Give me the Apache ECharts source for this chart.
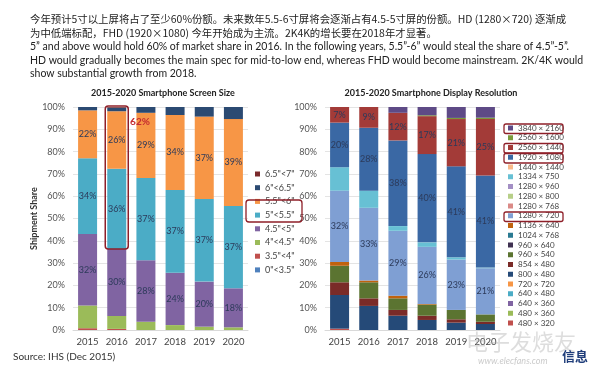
<!DOCTYPE html>
<html><head><meta charset="utf-8">
<script src="https://cdn.jsdelivr.net/npm/echarts@6/dist/echarts.min.js"></script>
<style>html,body{margin:0;padding:0;background:#fff}#c{width:600px;height:375px}</style>
</head><body><div id="c"></div><script>
// ---------- data ----------
const years = ['2015', '2016', '2017', '2018', '2019', '2020'];
const yTicks = [0, 10, 20, 30, 40, 50, 60, 70, 80, 90, 100];

// Screen size (stack bottom -> top)
const sizeNames = ['0"<3.5"', '3.5"<4"', '4"<4.5"', '4.5"<5"', '5"<5.5"', '5.5"<6"', '6"<6.5"', '6.5"<7"'];
const size_0_35 = [0, 0, 0, 0, 0, 0];
const size_35_4 = [0.8, 0.5, 0, 0, 0, 0];
const size_4_45 = [10.2, 5.8, 3.7, 2.2, 1.5, 1.2];
const size_45_5 = [32, 30, 27.6, 23.5, 20.2, 17.5];
const size_5_55 = [34, 36, 36.9, 37.1, 37, 36.9];
const size_55_6 = [21.5, 25.8, 29.2, 33.6, 37, 39];
const size_6_65 = [1.5, 1.6, 2.6, 3.6, 4.3, 5.4];
const size_65_7 = [0, 0.3, 0, 0, 0, 0];
const sizeLabelled = ['4.5"<5"', '5"<5.5"', '5.5"<6"'];

// Display resolution (stack bottom -> top)
const resNames = ['480 × 320', '480 × 360', '640 × 360', '640 × 480', '720 × 720', '800 × 480', '854 × 480',
  '960 × 540', '960 × 640', '1024 × 768', '1136 × 640', '1280 × 720', '1280 × 768', '1280 × 800',
  '1280 × 960', '1334 × 750', '1440 × 1440', '1920 × 1080', '2560 × 1440', '2560 × 1600', '3840 × 2160'];
const res_480x320 = [0.6, 0, 0, 0, 0, 0];
const res_480x360 = [0, 0, 0, 0, 0, 0];
const res_640x360 = [0, 0, 0, 0, 0, 0];
const res_640x480 = [0, 0, 0, 0, 0, 0];
const res_720x720 = [0, 0, 0, 0, 0, 0];
const res_800x480 = [15.1, 10.8, 6.4, 4.5, 3.3, 2.7];
const res_854x480 = [5.7, 3.4, 2.6, 1.9, 1.5, 1.0];
const res_960x540 = [7.4, 7.2, 5.2, 5.0, 4.2, 3.3];
const res_960x640 = [0, 0, 0, 0, 0, 0];
const res_1024x768 = [0, 0, 0, 0, 0, 0];
const res_1136x640 = [1.7, 0.8, 1.2, 0.3, 0, 0];
const res_1280x720 = [32, 32.6, 29.1, 25.6, 22.6, 20.7];
const res_1280x768 = [0, 0, 0, 0, 0, 0];
const res_1280x800 = [0, 0, 0, 0, 0, 0];
const res_1280x960 = [0, 0, 0, 0, 0, 0];
const res_1334x750 = [10.5, 7.7, 2.1, 2.0, 1.0, 0.3];
const res_1440x1440 = [0, 0, 0, 0, 0, 0];
const res_1920x1080 = [20, 28.2, 38.4, 39.6, 40.8, 41.3];
const res_2560x1440 = [7, 9.3, 12.4, 17, 21.2, 25.3];
const res_2560x1600 = [0, 0, 0, 0.4, 0.5, 0.6];
const res_3840x2160 = [0, 0, 2.6, 3.7, 4.9, 4.8];
const resLabelled = ['1280 × 720', '1920 × 1080', '2560 × 1440'];

// ---------- styles ----------
const sizeValues = [size_0_35, size_35_4, size_4_45, size_45_5, size_5_55, size_55_6, size_6_65, size_65_7];
const sizeColors = ['#4f81bd', '#c0504d', '#9bbb59', '#8064a2', '#4bacc6', '#f79646', '#2b4a72', '#7a2a2c'];
const resValues = [res_480x320, res_480x360, res_640x360, res_640x480, res_720x720, res_800x480, res_854x480,
  res_960x540, res_960x640, res_1024x768, res_1136x640, res_1280x720, res_1280x768, res_1280x800,
  res_1280x960, res_1334x750, res_1440x1440, res_1920x1080, res_2560x1440, res_2560x1600, res_3840x2160];
const resColors = ['#c0504d', '#9bbb59', '#8064a2', '#4bacc6', '#f79646', '#254a78', '#7a2b28',
  '#5b7431', '#3f3151', '#2a7a92', '#c0620d', '#7f9fd3', '#da8a87', '#b7cf88',
  '#a38fc4', '#67c0d4', '#f9b98a', '#3a68a4', '#a33b38', '#7a9a3c', '#5e4a86'];

const FONT = 'Lato, "Open Sans", sans-serif';
const CJK = '"Noto Sans CJK SC", sans-serif';
const labelStyle = {
  show: true, position: 'inside', color: '#2c3a5a', fontSize: 9, fontFamily: FONT,
  formatter: p => Math.round(p.value) + '%'
};

const series = [];
sizeNames.forEach((n, i) => {
  series.push({
    name: n, type: 'bar', stack: 'size', xAxisIndex: 0, yAxisIndex: 0, barWidth: 19,
    data: sizeValues[i], itemStyle: { color: sizeColors[i] },
    label: sizeLabelled.includes(n) ? labelStyle : { show: false },
    emphasis: { disabled: true }
  });
});
resNames.forEach((n, i) => {
  series.push({
    name: n, type: 'bar', stack: 'res', xAxisIndex: 1, yAxisIndex: 1, barWidth: 19,
    data: resValues[i], itemStyle: { color: resColors[i] },
    label: resLabelled.includes(n) ? labelStyle : { show: false },
    emphasis: { disabled: true }
  });
});

function xAx(gi) {
  return {
    type: 'category', gridIndex: gi, data: years,
    axisLine: { lineStyle: { color: '#d9d9d9' } }, axisTick: { show: false },
    axisLabel: { fontSize: 9.5, color: '#444', margin: 7, fontFamily: FONT }
  };
}
function yAx(gi, name) {
  return {
    type: 'value', gridIndex: gi, min: yTicks[0], max: yTicks[yTicks.length - 1], interval: 10,
    axisLine: { show: false }, axisTick: { show: false },
    splitLine: { lineStyle: { color: '#e4e4e4' } },
    axisLabel: { fontSize: 9, color: '#555', margin: 8, fontFamily: FONT, formatter: '{value}%' },
    name: name, nameLocation: 'middle', nameGap: 28,
    nameTextStyle: { fontSize: 9, fontWeight: 'bold', color: '#333', fontFamily: FONT }
  };
}

const textLines = [
  { t: '今年预计5寸以上屏将占了至少60%份额。未来数年5.5-6寸屏将会逐渐占有4.5-5寸屏的份额。HD (1280×720) 逐渐成', y: 19, cjk: true },
  { t: '为中低端标配，FHD (1920×1080) 今年开始成为主流。2K4K的增长要在2018年才显著。', y: 33, cjk: true },
  { t: '5” and above would hold 60% of market share in 2016. In the following years, 5.5”-6” would steal the share of 4.5”-5”.', y: 47 },
  { t: 'HD would gradually becomes the main spec for mid-to-low end, whereas FHD would become mainstream. 2K/4K would', y: 61 },
  { t: 'show substantial growth from 2018.', y: 74 }
];

const Z = 100;
const graphics = textLines.map(l => ({
  type: 'text', x: 30, y: l.y, z: Z,
  style: { text: l.t, fill: '#222', fontSize: l.cjk ? 10.4 : 10.5, fontFamily: l.cjk ? CJK : FONT, verticalAlign: 'middle' }
}));
graphics.push(
  { type: 'text', x: 163, y: 93, z: Z, style: { text: '2015-2020 Smartphone Screen Size', fill: '#222', fontSize: 9, fontWeight: 'bold', fontFamily: FONT, align: 'center', verticalAlign: 'middle' } },
  { type: 'text', x: 431, y: 93, z: Z, style: { text: '2015-2020 Smartphone Display Resolution', fill: '#222', fontSize: 9, fontWeight: 'bold', fontFamily: FONT, align: 'center', verticalAlign: 'middle' } },
  { type: 'text', x: 13, y: 357, z: Z, style: { text: 'Source: IHS (Dec 2015)', fill: '#333', fontSize: 10, fontFamily: FONT, verticalAlign: 'middle' } },
  { type: 'text', x: 140, y: 122, z: Z, style: { text: '62%', fill: '#c42a2f', fontSize: 10, fontWeight: 'bold', fontFamily: FONT, align: 'center', verticalAlign: 'middle' } },
  // legend highlight boxes
  { type: 'rect', z: Z, shape: { x: 246, y: 200, width: 56, height: 22, r: 3 }, style: { fill: 'none', stroke: '#8e1f28', lineWidth: 1.3 } },
  { type: 'rect', z: Z, shape: { x: 504, y: 124, width: 59, height: 9.5, r: 2 }, style: { fill: 'none', stroke: '#8e1f28', lineWidth: 1.3 } },
  { type: 'rect', z: Z, shape: { x: 504, y: 143.5, width: 59, height: 9.5, r: 2 }, style: { fill: 'none', stroke: '#8e1f28', lineWidth: 1.3 } },
  { type: 'rect', z: Z, shape: { x: 504, y: 153.5, width: 59, height: 9.5, r: 2 }, style: { fill: 'none', stroke: '#8e1f28', lineWidth: 1.3 } },
  { type: 'rect', z: Z, shape: { x: 504, y: 212, width: 59, height: 9.5, r: 2 }, style: { fill: 'none', stroke: '#8e1f28', lineWidth: 1.3 } },
  // watermark
  { type: 'text', x: 466, y: 342, z: Z, style: { text: '电子发烧友', fill: 'rgba(170,170,170,0.4)', fontSize: 22, fontFamily: CJK, verticalAlign: 'middle' } },
  { type: 'text', x: 478, y: 361, z: Z, style: { text: 'www.elecfans.com', fill: 'rgba(150,150,150,0.5)', fontSize: 9, fontStyle: 'italic', fontFamily: FONT, verticalAlign: 'middle' } },
  { type: 'text', x: 562, y: 356, z: Z, style: { text: '信息', fill: '#1f3d7a', fontSize: 13, fontWeight: 'bold', fontFamily: CJK, verticalAlign: 'middle' } }
);

const option = {
  backgroundColor: '#fff',
  animation: false,
  grid: [
    { left: 73, right: 352, top: 107, bottom: 45 },
    { left: 325, right: 100, top: 107, bottom: 45 }
  ],
  xAxis: [xAx(0), xAx(1)],
  yAxis: [yAx(0, 'Shipment Share'), yAx(1, '')],
  legend: [
    {
      data: sizeNames.slice().reverse(), orient: 'vertical', left: 255, top: 169, padding: 0,
      icon: 'rect', itemWidth: 5, itemHeight: 5, itemGap: 3.7, selectedMode: false,
      textStyle: { fontSize: 9, lineHeight: 10, color: '#444', fontFamily: FONT }
    },
    {
      data: resNames.slice().reverse(), orient: 'vertical', left: 508, top: 123.5, padding: 0,
      icon: 'rect', itemWidth: 5, itemHeight: 5, itemGap: 0.75, selectedMode: false,
      textStyle: { fontSize: 8, lineHeight: 9, color: '#444', fontFamily: FONT }
    }
  ],
  series: series,
  graphic: { elements: graphics }
};

const chart = echarts.init(document.getElementById('c'), null, { renderer: 'canvas' });
chart.setOption(option);

// highlight box around 2016 bar (5" and above), positioned from the data
const idx = years.indexOf('2016');
const below = size_0_35[idx] + size_35_4[idx] + size_4_45[idx] + size_45_5[idx];
const pTop = chart.convertToPixel({ gridIndex: 0 }, ['2016', 100]);
const pBot = chart.convertToPixel({ gridIndex: 0 }, ['2016', below]);
graphics.push({
  type: 'rect', z: Z,
  shape: { x: pTop[0] - 11.5, y: pTop[1] - 1, width: 23, height: pBot[1] - pTop[1] + 1, r: 3 },
  style: { fill: 'none', stroke: '#8e1f28', lineWidth: 1.5 }
});
chart.setOption({ graphic: { elements: graphics } });
</script></body></html>
